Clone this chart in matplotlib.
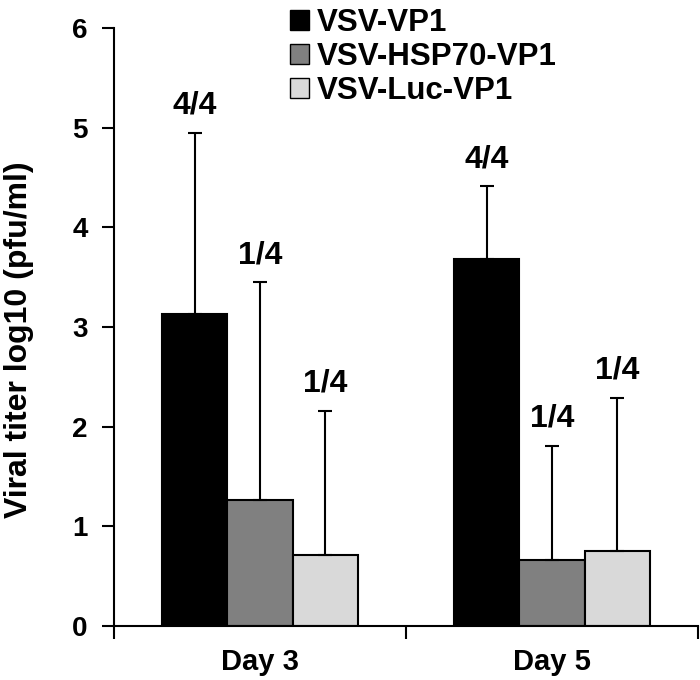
import matplotlib
matplotlib.use("Agg")
import matplotlib.pyplot as plt
from matplotlib.patches import Patch
import numpy as np

plt.rcParams['font.family'] = ['Liberation Sans', 'DejaVu Sans']
plt.rcParams['font.weight'] = 'bold'

days = ["Day 3", "Day 5"]
series = ["VSV-VP1", "VSV-HSP70-VP1", "VSV-Luc-VP1"]
means = {
    "VSV-VP1": [3.13, 3.68],
    "VSV-HSP70-VP1": [1.26, 0.66],
    "VSV-Luc-VP1": [0.71, 0.75],
}
err_tops = {
    "VSV-VP1": [4.95, 4.41],
    "VSV-HSP70-VP1": [3.45, 1.81],
    "VSV-Luc-VP1": [2.16, 2.29],
}
ratios = {
    "VSV-VP1": ["4/4", "4/4"],
    "VSV-HSP70-VP1": ["1/4", "1/4"],
    "VSV-Luc-VP1": ["1/4", "1/4"],
}
colors = ["#000000", "#808080", "#d9d9d9"]

fig = plt.figure(figsize=(7.0, 6.8), dpi=100)
ax = fig.add_axes([114/700, 1-626/680, (698-114)/700, (626-28)/680])

x = np.arange(len(days))
w = 0.224
for i, s in enumerate(series):
    pos = x + (i - 1) * w
    m = np.array(means[s])
    up = np.array(err_tops[s]) - m
    ax.bar(pos, m, width=w, color=colors[i], edgecolor="black", linewidth=1.5, zorder=2)
    ax.errorbar(pos, m, yerr=[np.zeros_like(m), up], fmt="none", ecolor="black",
                elinewidth=1.5, capsize=5, capthick=1.5, zorder=3)
    for p, t, lab in zip(pos, err_tops[s], ratios[s]):
        ax.text(p, t + 0.12, lab, ha="center", va="bottom", fontsize=23, fontweight="bold")

ax.set_xlim(-0.5, 1.5)
ax.set_ylim(0, 6)
ax.set_yticks(range(0, 7))
ax.set_xticks(x)
ax.set_xticklabels(days, fontsize=21, fontweight="bold")
ax.tick_params(axis="x", which="major", length=0, pad=16)
ax.set_xticks([-0.5, 0.5, 1.5], minor=True)
ax.tick_params(axis="x", which="minor", length=9, width=1.5, direction="out")
ax.tick_params(axis="y", length=9, width=1.5, direction="out", labelsize=20, pad=10)
for lab in ax.get_yticklabels():
    lab.set_fontweight("bold")
for sp in ["top", "right"]:
    ax.spines[sp].set_visible(False)
for sp in ["left", "bottom"]:
    ax.spines[sp].set_linewidth(1.5)
ax.set_ylabel("Viral titer log10 (pfu/ml)", fontsize=23, fontweight="bold")
ax.yaxis.set_label_coords(34/700, 0.5, transform=fig.transFigure)

handles = [Patch(facecolor=c, edgecolor="black", linewidth=1.0) for c in colors]
fig.legend(handles, series, loc="upper left", bbox_to_anchor=(268/700, 1.02),
           frameon=False, handlelength=0.6, handleheight=0.6,
           handletextpad=0.25, labelspacing=0.12, borderpad=0.2,
           prop={"weight": "bold", "size": 22.5})

fig.savefig("out.png", dpi=100)
